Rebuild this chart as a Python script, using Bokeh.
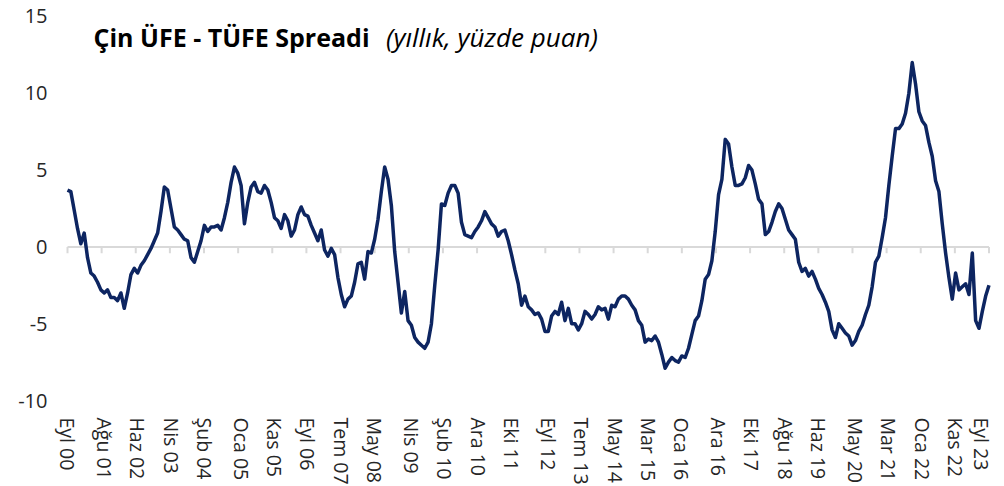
from bokeh.plotting import figure
from bokeh.models import Range1d, FixedTicker, Label
from bokeh.embed import file_html
from bokeh.resources import INLINE

# ---- data -------------------------------------------------------------
start_year = 2000
start_month = 9  # Eylül 2000
month_abbr = ["Oca", "Şub", "Mar", "Nis", "May", "Haz",
              "Tem", "Ağu", "Eyl", "Eki", "Kas", "Ara"]

title_main = "Çin ÜFE - TÜFE Spreadi"
title_sub = "(yıllık, yüzde puan)"

y_ticks = [-10, -5, 0, 5, 10, 15]

# ÜFE - TÜFE spread, monthly from Sep 2000 to Sep 2023
spread = [
    3.7, 3.6, 2.4, 1.2,                                                # 2000 Sep-Dec
    0.2, 0.9, -0.7, -1.7, -1.9, -2.3, -2.8, -3.0, -2.8, -3.3, -3.3, -3.5,  # 2001
    -3.0, -4.0, -3.0, -1.8, -1.4, -1.7, -1.2, -0.9, -0.5, -0.1, 0.4, 0.9,  # 2002
    2.3, 3.9, 3.7, 2.5, 1.3, 1.1, 0.8, 0.5, 0.4, -0.7, -1.0, -0.3,     # 2003
    0.4, 1.4, 1.0, 1.3, 1.3, 1.4, 1.1, 1.9, 2.9, 4.2, 5.2, 4.8,        # 2004
    4.0, 1.5, 2.9, 3.9, 4.2, 3.6, 3.5, 4.0, 3.7, 2.9, 1.9, 1.7,        # 2005
    1.2, 2.1, 1.7, 0.7, 1.1, 2.1, 2.6, 2.1, 2.0, 1.4, 0.9, 0.4,        # 2006
    1.1, -0.2, -0.6, -0.1, -0.5, -2.0, -3.1, -3.9, -3.4, -3.2, -2.3, -1.1,  # 2007
    -1.0, -2.1, -0.3, -0.4, 0.5, 1.8, 3.6, 5.2, 4.4, 2.7, -0.3, -2.3,  # 2008
    -4.3, -2.9, -4.8, -5.1, -5.9, -6.2, -6.4, -6.6, -6.2, -5.0, -2.5, -0.2,  # 2009
    2.8, 2.7, 3.5, 4.0, 4.0, 3.5, 1.6, 0.8, 0.7, 0.6, 1.0, 1.3,        # 2010
    1.7, 2.3, 1.9, 1.5, 1.3, 0.7, 1.0, 1.1, 0.4, -0.5, -1.5, -2.4,     # 2011
    -3.8, -3.2, -3.9, -4.1, -4.4, -4.3, -4.7, -5.5, -5.5, -4.5, -4.2, -4.4,  # 2012
    -3.6, -4.8, -4.0, -5.0, -5.0, -5.4, -5.0, -4.2, -4.4, -4.7, -4.4, -3.9,  # 2013
    -4.1, -4.0, -4.7, -3.8, -3.9, -3.4, -3.2, -3.2, -3.4, -3.8, -4.1, -4.8,  # 2014
    -5.1, -6.2, -6.0, -6.1, -5.8, -6.2, -7.0, -7.9, -7.5, -7.2, -7.4, -7.5,  # 2015
    -7.1, -7.2, -6.6, -5.7, -4.8, -4.5, -3.5, -2.1, -1.8, -0.9, 1.0, 3.4,    # 2016
    4.4, 7.0, 6.7, 5.2, 4.0, 4.0, 4.1, 4.5, 5.3, 5.0, 4.1, 3.1,        # 2017
    2.8, 0.8, 1.0, 1.6, 2.3, 2.8, 2.5, 1.8, 1.1, 0.8, 0.5, -1.0,       # 2018
    -1.6, -1.4, -1.9, -1.6, -2.1, -2.7, -3.1, -3.6, -4.2, -5.4, -5.9, -5.0,  # 2019
    -5.3, -5.6, -5.8, -6.4, -6.1, -5.5, -5.1, -4.4, -3.8, -2.6, -1.0, -0.6,  # 2020
    0.6, 1.9, 4.0, 5.9, 7.7, 7.7, 8.0, 8.7, 10.0, 12.0, 10.6, 8.8,     # 2021
    8.2, 7.9, 6.8, 5.9, 4.3, 3.6, 1.5, -0.4, -2.0, -3.4, -1.7, -2.8,   # 2022
    -2.6, -2.4, -3.1, -0.4, -4.8, -5.3, -4.2, -3.2, -2.5,              # 2023 Jan-Sep
]

n = len(spread)
idx = list(range(n))
labels_all = []
for i in idx:
    k = start_month - 1 + i
    labels_all.append(f"{month_abbr[k % 12]} {(start_year + k // 12) % 100:02d}")

n_ticks = 28
tick_pos = [i * (n - 1) / (n_ticks - 1) for i in range(n_ticks)]
label_idx = [(i * (n - 1) + n_ticks - 2) // (n_ticks - 1) for i in range(n_ticks)]

# ---- figure -----------------------------------------------------------
FONT = "Open Sans"
TXT = "#262626"

p = figure(frame_width=936, frame_height=392,
           x_range=Range1d(-2.695, 277.647), y_range=Range1d(-10, 15.52),
           output_backend="svg", toolbar_location=None,
           min_border_left=58, min_border_right=0, min_border_top=8,
           min_border_bottom=0)
p.outline_line_color = None
p.xgrid.visible = False
p.ygrid.visible = False
p.background_fill_color = "white"
p.border_fill_color = "white"

# zero line with category-axis tick marks
p.segment(x0=[0], y0=[0], x1=[n - 1], y1=[0], line_color="#d9d9d9", line_width=2)
p.segment(x0=tick_pos, y0=[0] * n_ticks, x1=tick_pos, y1=[-0.42] * n_ticks,
          line_color="#d9d9d9", line_width=2)

p.line(idx, spread, line_color="#0d2561", line_width=3.5, line_join="round")

# y axis
ya = p.yaxis[0]
ya.ticker = FixedTicker(ticks=y_ticks)
ya.major_label_overrides = {t: str(t) for t in y_ticks}
ya.axis_line_color = None
ya.major_tick_line_color = None
ya.minor_tick_line_color = None
ya.major_label_standoff = 5
ya.major_label_text_font = FONT
ya.major_label_text_font_size = "20px"
ya.major_label_text_color = TXT

# x axis
xa = p.xaxis[0]
xa.ticker = FixedTicker(ticks=label_idx)
xa.major_label_overrides = {i: labels_all[i] for i in label_idx}
xa.major_label_orientation = "vertical"
xa.axis_line_color = None
xa.major_tick_line_color = None
xa.minor_tick_line_color = None
xa.major_label_standoff = 11
xa.major_label_text_font = FONT
xa.major_label_text_font_size = "19.5px"
xa.major_label_text_color = TXT

# title
p.add_layout(Label(x=7.8, y=13.64, text=title_main, text_font=FONT,
                   text_font_style="bold", text_font_size="25px",
                   text_color="black", text_baseline="alphabetic"))
p.add_layout(Label(x=95.4, y=13.64, text=title_sub, text_font=FONT,
                   text_font_style="italic", text_font_size="26px",
                   text_color="black", text_baseline="alphabetic"))

open("out.html", "w").write(file_html(p, INLINE))
